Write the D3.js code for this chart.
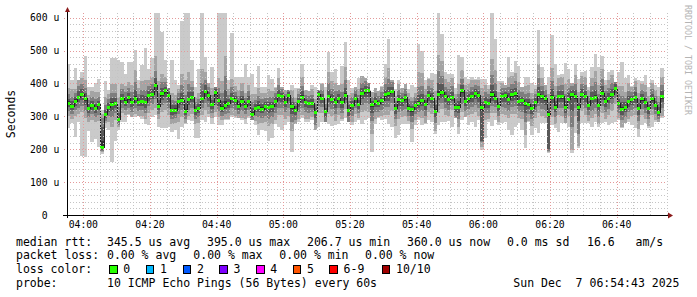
<!DOCTYPE html>
<html><head><meta charset="utf-8">
<script src="https://cdn.jsdelivr.net/npm/d3@7"></script>
<style>body{margin:0;background:#fff}svg{display:block}text{font-family:"DejaVu Sans Mono",monospace}</style>
</head><body><svg id="c" width="697" height="297"></svg>
<script>
// median rtt per minute (µs)
const median = [340,330,346,358,367,354,324,334,323,335,
206,304,328,337,339,289,354,343,356,341,
355,343,346,341,363,367,394,331,368,378,
362,317,319,344,349,314,350,358,317,323,
354,376,362,335,372,347,323,334,338,354,
349,331,346,330,346,307,323,328,322,330,
327,329,346,364,360,342,364,329,319,344,
358,343,338,338,313,366,355,314,360,352,
341,354,341,364,319,334,355,335,370,378,
378,335,346,340,347,365,368,376,324,350,
347,356,325,320,334,339,347,336,363,354,
316,367,373,360,350,358,327,327,378,345,
353,360,370,362,326,343,339,365,355,331,
360,362,350,366,368,345,348,339,337,323,
343,365,360,353,307,358,327,360,360,327,
352,367,360,326,367,360,334,355,358,334,
370,346,355,367,385,339,322,327,345,350,
358,324,353,341,323,353,334,312,360];
// slowest ping per minute (µs)
const maxV = [458,410,446,410,435,483,390,390,400,413,
320,408,380,476,476,470,466,430,466,466,
501,410,455,509,445,476,614,614,555,470,
385,471,410,395,590,614,614,471,390,445,
614,481,400,450,390,614,614,614,410,552,
418,418,418,458,418,430,390,453,390,390,
425,412,390,446,390,380,380,395,385,385,
458,380,378,395,388,380,400,388,494,436,
444,395,453,527,410,385,388,415,422,415,
400,375,385,378,392,458,535,410,382,410,
385,398,384,394,390,520,500,410,415,433,
428,614,549,435,428,428,385,486,479,418,
412,418,412,418,412,412,395,614,535,407,
407,395,479,435,467,453,390,418,418,400,
395,562,450,395,418,547,458,425,428,461,
444,400,458,412,435,438,390,450,489,450,
483,410,435,440,405,435,466,415,425,392,
417,410,408,425,388,410,395,390,446];
// fastest ping per minute (µs)
const minV = [263,280,236,284,180,175,256,223,230,207,
185,263,258,162,226,258,284,284,304,299,
299,302,291,278,273,299,304,266,263,263,
266,253,258,230,266,278,288,286,233,233,
288,284,299,278,299,273,273,288,288,299,
294,294,289,278,294,289,273,243,258,256,
226,233,278,268,258,273,284,193,278,284,
294,284,284,289,258,268,284,284,278,270,
273,278,286,294,284,273,284,289,278,289,
294,193,278,294,289,291,278,268,233,243,
278,278,278,221,273,289,273,278,289,284,
246,273,284,284,286,268,294,246,289,299,
274,284,268,289,198,233,284,271,289,274,
279,284,258,243,268,279,258,205,284,243,
263,248,279,279,187,274,263,253,279,279,
268,187,248,203,279,279,279,268,284,268,
279,284,274,279,284,289,263,279,284,274,
263,236,274,279,263,268,284,284,294];
// smoke spreads above / below the median (µs), ping pairs 2/9, 3/8, 4/7, 5/6
const up4 = [45,52,38,60,48,55,40,42,50,38,100,55,40,62,58,70,45,50,48,55,85,42,60,70,48,52,90,75,60,40,38,55,45,40,80,95,85,50,42,48,90,60,40,52,38,70,85,150,45,60,42,48,55,40,48,62,45,58,50,40,55,48,40,52,38,42,35,50,38,40,60,36,40,45,40,35,42,38,75,55,60,42,58,85,45,38,40,48,55,45,40,38,40,36,42,55,80,45,38,48,38,42,45,40,38,95,85,48,50,55,62,120,95,52,55,58,40,70,62,50,45,50,40,48,60,52,45,110,85,42,40,38,70,55,65,60,40,52,58,48,40,95,55,42,60,90,65,55,58,70,60,40,65,48,55,58,45,62,80,60,75,48,55,58,42,52,70,48,55,40,50,48,45,55,40,48,45,50,58];
const dn4 = [40,38,45,50,55,60,42,45,40,48,15,25,45,70,50,20,45,40,50,45,48,42,45,50,52,48,70,40,55,60,58,40,38,62,50,35,48,52,40,42,50,58,55,40,60,48,35,42,45,50,48,40,50,38,45,30,36,50,42,48,55,52,58,60,55,50,62,75,48,52,55,50,45,40,60,55,45,48,52,50,55,50,48,42,60,52,48,40,58,62,65,90,55,42,45,60,65,60,52,58,50,55,40,60,45,42,52,55,50,48,60,58,52,55,48,40,45,60,65,48,50,52,58,62,120,55,48,55,45,48,52,58,55,60,62,50,55,95,50,52,48,55,60,58,116,60,50,55,58,52,50,170,58,115,52,55,48,60,52,58,60,55,52,50,48,45,55,50,52,48,55,62,50,48,52,50,45,30,60];
const up3 = [28,30,24,35,30,32,25,26,30,24,90,30,25,35,32,40,28,30,30,32,50,26,35,38,28,30,45,40,35,25,24,32,28,26,45,50,48,30,26,30,48,35,26,30,24,40,48,90,28,35,26,30,32,25,30,35,28,34,30,25,32,30,25,30,24,26,22,30,24,25,35,22,25,28,25,22,26,24,40,32,35,26,34,45,28,24,25,30,32,28,25,24,25,22,26,32,45,28,24,30,24,26,28,25,24,50,45,30,30,32,35,70,50,30,32,34,25,40,35,30,28,30,25,30,35,30,28,60,45,26,25,24,40,32,38,35,25,30,34,30,25,50,32,26,35,50,38,32,34,40,35,25,38,30,32,34,28,36,45,35,42,30,32,34,26,30,40,30,32,25,30,30,28,32,25,30,28,30,34];
const dn3 = [25,22,28,32,35,38,26,28,24,30,10,18,28,40,30,14,28,25,30,28,30,26,28,32,32,30,42,25,34,38,36,25,24,38,30,22,30,32,25,26,30,36,34,25,38,30,22,26,28,30,30,25,30,24,28,20,22,30,26,30,34,32,36,38,34,30,38,45,30,32,34,30,28,25,38,34,28,30,32,30,34,30,30,26,38,32,30,25,36,38,40,50,34,26,28,38,40,36,32,36,30,34,25,38,28,26,32,34,30,30,36,35,32,34,30,25,28,36,40,30,30,32,36,38,105,34,30,34,28,30,32,36,34,38,38,30,34,55,30,32,30,34,38,36,112,38,30,34,36,32,30,100,36,80,32,34,30,38,32,36,38,34,32,30,30,28,34,30,32,30,34,38,30,30,32,30,28,20,36];
const up2 = [14,16,12,18,15,16,12,13,15,12,60,15,12,18,16,20,14,15,15,16,25,13,18,20,14,15,22,20,18,12,12,16,14,13,22,25,24,15,13,15,24,18,13,15,12,20,24,45,14,18,13,15,16,12,15,18,14,17,15,12,16,15,12,15,12,13,11,15,12,12,18,11,12,14,12,11,13,12,20,16,18,13,17,22,14,12,12,15,16,14,12,12,12,11,13,16,22,14,12,15,12,13,14,12,12,25,22,15,15,16,18,35,25,15,16,17,12,20,18,15,14,15,12,15,18,15,14,30,22,13,12,12,20,16,19,18,12,15,17,15,12,25,16,13,18,25,19,16,17,20,18,12,19,15,16,17,14,18,22,18,21,15,16,17,13,15,20,15,16,12,15,15,14,16,12,15,14,15,17];
const dn2 = [12,11,14,16,18,19,13,14,12,15,7,9,14,20,15,7,14,12,15,14,15,13,14,16,16,15,21,12,17,19,18,12,12,19,15,11,15,16,12,13,15,18,17,12,19,15,11,13,14,15,15,12,15,12,14,10,11,15,13,15,17,16,18,19,17,15,19,22,15,16,17,15,14,12,19,17,14,15,16,15,17,15,15,13,19,16,15,12,18,19,20,25,17,13,14,19,20,18,16,18,15,17,12,19,14,13,16,17,15,15,18,17,16,17,15,12,14,18,20,15,15,16,18,19,100,17,15,17,14,15,16,18,17,19,19,15,17,28,15,16,15,17,19,18,105,19,15,17,18,16,15,50,18,40,16,17,15,19,16,18,19,17,16,15,15,14,17,15,16,15,17,19,15,15,16,15,14,10,18];
const up1 = [5,4,6,5,4,6,5,3,5,4,20,5,4,6,5,4,5,6,4,5,6,4,5,6,5,4,7,6,5,4,4,6,5,4,6,7,6,5,4,5,6,5,4,5,4,6,7,12,4,5,4,5,6,4,5,6,4,5,5,4,5,4,4,5,4,4,3,5,4,4,6,3,4,5,4,3,4,4,6,5,6,4,5,7,4,4,4,5,5,4,4,4,4,3,4,5,6,4,4,5,4,4,5,4,4,7,6,5,5,5,6,9,7,5,5,5,4,6,5,5,4,5,4,5,5,5,4,8,6,4,4,4,6,5,6,5,4,5,5,5,4,7,5,4,5,7,6,5,5,6,5,4,6,5,5,5,4,5,6,5,6,5,5,5,4,5,6,5,5,4,5,5,4,5,4,5,4,5,5];
const dn1 = [4,4,5,5,6,6,4,5,4,5,4,3,5,6,5,3,5,4,5,5,5,4,5,5,5,5,6,4,5,6,6,4,4,6,5,4,5,5,4,4,5,6,5,4,6,5,4,4,5,5,5,4,5,4,5,3,4,5,4,5,5,5,6,6,5,5,6,7,5,5,5,5,4,4,6,5,4,5,5,5,5,5,5,4,6,5,5,4,6,6,6,8,5,4,5,6,6,6,5,6,5,5,4,6,4,4,5,5,5,5,6,5,5,5,5,4,4,6,6,5,5,5,6,6,10,5,5,5,4,5,5,6,5,6,6,5,5,8,5,5,5,5,6,6,10,6,5,5,6,5,5,8,6,8,5,5,5,6,5,6,6,5,5,5,5,4,5,5,5,5,5,6,5,5,5,5,4,3,6];

const yTicks = [0,100,200,300,400,500,600];
const lossLabels = ["0","1","2","3","4","5","6-9","10/10"];
const lossColors = ["#26ff00","#00b8ff","#0059ff","#7e00ff","#ff00ff","#ff5500","#ff0000","#a10000"];
const smokeColors = ["#cacaca","#a4a4a4","#7e7e7e","#585858","#323232"];
const legendRows = [
  [["median rtt:",16],["345.5 us avg",107],["395.0 us max",207],["206.7 us min",307],["360.0 us now",407],["0.0 ms sd",507],["16.6   am/s",587]],
  [["packet loss:",16],["0.00 % avg",107],["0.00 % max",193.3],["0.00 % min",279.3],["0.00 % now",365]],
  [["loss color:",16]],
  [["probe:",16],["10 ICMP Echo Pings (56 Bytes) every 60s",107],["Sun Dec  7 06:54:43 2025",513.3]]
];
const lossBoxX = [109,145.7,182.7,219.3,256,292.7,329.3,381.7];

const svg = d3.select("#c");
const X0 = 67, X1 = 667, YT = 13, YB = 215, YMAX = 614;
const t0 = new Date(2025,11,7,3,55,6), t1 = new Date(2025,11,7,6,55,6);
const x = d3.scaleTime().domain([t0,t1]).range([X0,X1]);
const y = d3.scaleLinear().domain([0,YMAX]).range([YB,YT]);
const tAt = i => new Date(t0.getTime() + i*60000);
const xl = i => Math.round(x(tAt(i)));

const rows = median.map((m,i)=>{
  const hi5 = Math.min(maxV[i],YMAX), lo5 = minV[i];
  const hi4 = Math.min(m+up4[i],hi5), lo4 = Math.max(m-dn4[i],lo5);
  const hi3 = Math.min(m+up3[i],hi4), lo3 = Math.max(m-dn3[i],lo4);
  const hi2 = Math.min(m+up2[i],hi3), lo2 = Math.max(m-dn2[i],lo3);
  const hi1 = Math.min(m+up1[i],hi2), lo1 = Math.max(m-dn1[i],lo2);
  return {i,m,bands:[[lo5,hi5],[lo4,hi4],[lo3,hi3],[lo2,hi2],[lo1,hi1]]};
});

const gSmoke = svg.append("g").attr("shape-rendering","crispEdges");
smokeColors.forEach((c,k)=>{
  gSmoke.selectAll(null).data(rows).enter().append("rect")
    .attr("x",d=>xl(d.i)).attr("width",d=>xl(d.i+1)-xl(d.i))
    .attr("y",d=>y(d.bands[k][1])).attr("height",d=>Math.max(0,y(d.bands[k][0])-y(d.bands[k][1])))
    .attr("fill",c);
});

// median step line
const pts = rows.map(d=>[xl(d.i),y(d.m)]);
pts.push([xl(rows.length),y(median[median.length-1])]);
svg.append("path").attr("d",d3.line().curve(d3.curveStepAfter)(pts))
  .attr("fill","none").attr("stroke","#202020").attr("stroke-width",1).attr("shape-rendering","crispEdges");
// loss colour markers
svg.append("g").attr("shape-rendering","crispEdges").selectAll("rect").data(rows).enter().append("rect")
  .attr("x",d=>xl(d.i)).attr("width",d=>xl(d.i+1)-xl(d.i))
  .attr("y",d=>y(d.m)-1.5).attr("height",3).attr("fill",lossColors[0]);

// grid
const gGrid = svg.append("g").attr("shape-rendering","crispEdges");
const minorY = d3.range(20,YMAX,20).filter(v=>v%100!==0);
gGrid.selectAll(null).data(minorY).enter().append("line")
  .attr("x1",X0).attr("x2",X1).attr("y1",d=>Math.round(y(d))+0.5).attr("y2",d=>Math.round(y(d))+0.5)
  .attr("stroke","#c4c4c4").attr("stroke-dasharray","1,2");
const minorX = d3.timeMinute.every(5).range(t0,t1).filter(t=>t.getMinutes()%20!==0);
gGrid.selectAll(null).data(minorX).enter().append("line")
  .attr("x1",d=>Math.round(x(d))+0.5).attr("x2",d=>Math.round(x(d))+0.5).attr("y1",YT).attr("y2",YB+2)
  .attr("stroke","#c4c4c4").attr("stroke-dasharray","1,2");
gGrid.selectAll(null).data(yTicks.filter(v=>v>0)).enter().append("line")
  .attr("x1",X0-3).attr("x2",X1).attr("y1",d=>Math.round(y(d))+0.5).attr("y2",d=>Math.round(y(d))+0.5)
  .attr("stroke","#e49a9a").attr("stroke-dasharray","1,2");
const majorX = d3.timeMinute.every(20).range(t0,t1);
gGrid.selectAll(null).data(majorX).enter().append("line")
  .attr("x1",d=>Math.round(x(d))+0.5).attr("x2",d=>Math.round(x(d))+0.5).attr("y1",YT).attr("y2",YB+3)
  .attr("stroke","#e49a9a").attr("stroke-dasharray","1,2");

// axes
svg.append("line").attr("x1",X0-4).attr("x2",X1+2).attr("y1",YB+0.5).attr("y2",YB+0.5).attr("stroke","#000").attr("shape-rendering","crispEdges");
svg.append("line").attr("x1",X0+0.5).attr("x2",X0+0.5).attr("y1",YB+3).attr("y2",YT-1).attr("stroke","#000").attr("shape-rendering","crispEdges");
svg.append("path").attr("d",`M${X1+1},${YB-2.5}L${X1+6},${YB+0.5}L${X1+1},${YB+3.5}Z`).attr("fill","#8b1a1a");
svg.append("path").attr("d",`M${X0-2},${YT-1}L${X0+0.5},${YT-6}L${X0+3},${YT-1}Z`).attr("fill","#8b1a1a");

// y labels
const gy = svg.append("g").attr("font-size","9.75px").attr("fill","#000");
gy.selectAll(null).data(yTicks).enter().append("text")
  .attr("x",47.6).attr("y",d=>y(d)+3.5).attr("text-anchor","end").text(d=>d);
gy.selectAll(null).data(yTicks.filter(v=>v>0)).enter().append("text")
  .attr("x",53.4).attr("y",d=>y(d)+3.5).text("u");
// x labels
svg.append("g").attr("font-size","9.75px").selectAll("text").data(majorX).enter().append("text")
  .attr("x",d=>x(d)).attr("y",228.3).attr("text-anchor","middle").text(d3.timeFormat("%H:%M"));

// axis title
svg.append("text").attr("transform","translate(14.8,114) rotate(-90)").attr("text-anchor","middle")
  .attr("font-size","11.5px").text("Seconds");
// watermark
svg.append("text").attr("transform","translate(685,5) rotate(90)").attr("font-size","8.3px")
  .attr("fill","#b4b4b4").text("RRDTOOL / TOBI OETIKER");

// legend
const gl = svg.append("g").attr("font-size","11.5px").attr("fill","#000");
legendRows.forEach((row,r)=>{
  row.forEach(([s,xx])=>{
    gl.append("text").attr("x",xx).attr("y",245.6+r*13.8).attr("xml:space","preserve").style("white-space","pre").text(s);
  });
});
lossLabels.forEach((lab,k)=>{
  gl.append("rect").attr("x",lossBoxX[k]+0.5).attr("y",265.5).attr("width",7.5).attr("height",7.5)
    .attr("fill",lossColors[k]).attr("stroke","#000").attr("stroke-width",1).attr("shape-rendering","crispEdges");
  gl.append("text").attr("x",lossBoxX[k]+14.3).attr("y",245.6+2*13.8).text(lab);
});
</script></body></html>
